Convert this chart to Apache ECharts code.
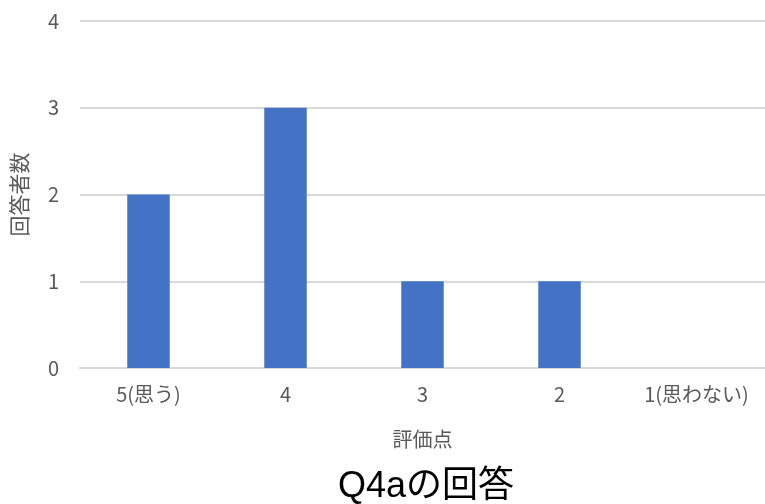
<!DOCTYPE html>
<html><head><meta charset="utf-8">
<script src="https://cdn.jsdelivr.net/npm/echarts@6/dist/echarts.min.js"></script>
<style>html,body{margin:0;padding:0;background:#fff}#c{width:765px;height:504px}</style>
</head><body><div id="c"></div>
<script>
const categories = ["5(思う)", "4", "3", "2", "1(思わない)"];
const counts = [2, 3, 1, 1, 0];
const yTicks = [0, 1, 2, 3, 4];
const titleText = "Q4aの回答";
const xName = "評価点";
const yName = "回答者数";

const font = '"Noto Sans CJK JP", "Noto Sans", sans-serif';
const titleFont = '"Liberation Sans", "Noto Sans CJK JP", sans-serif';
const chart = echarts.init(document.getElementById('c'));
chart.setOption({
  animation: false,
  backgroundColor: '#fff',
  title: {
    text: titleText, left: 333, top: 464,
    textStyle: {fontFamily: titleFont, fontSize: 36, fontWeight: 'normal', color: '#000'}
  },
  grid: {left: 80, right: 0, top: 21, bottom: 136, containLabel: false},
  xAxis: {
    type: 'category', data: categories,
    name: xName, nameLocation: 'middle', nameGap: 61,
    nameTextStyle: {fontFamily: font, fontSize: 20, color: '#595959'},
    axisLine: {show: true, lineStyle: {color: '#d9d9d9', width: 2}},
    axisTick: {show: false},
    axisLabel: {fontFamily: font, fontSize: 20, color: '#595959', margin: 16}
  },
  yAxis: {
    type: 'value', min: yTicks[0], max: yTicks[yTicks.length-1], interval: 1,
    name: yName, nameLocation: 'middle', nameGap: 50, nameRotate: 90,
    nameTextStyle: {fontFamily: font, fontSize: 21, color: '#595959'},
    axisLine: {show: false}, axisTick: {show: false},
    axisLabel: {fontFamily: font, fontSize: 20, color: '#595959', margin: 21},
    splitLine: {lineStyle: {color: '#d9d9d9', width: 2}}
  },
  series: [{
    type: 'bar', data: counts, barWidth: '31%',
    itemStyle: {color: '#4472C4'}
  }]
});
</script></body></html>
